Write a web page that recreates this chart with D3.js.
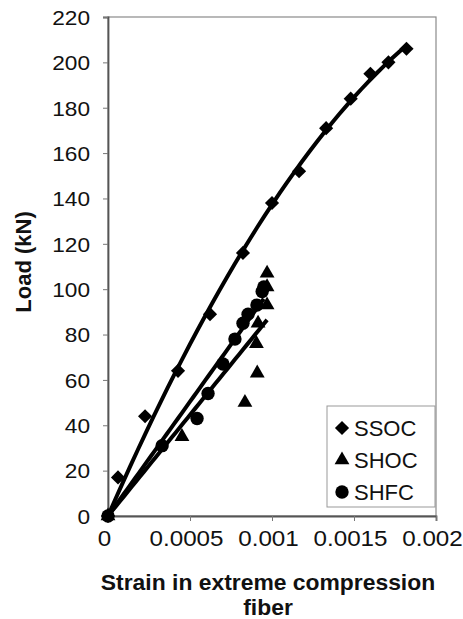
<!DOCTYPE html>
<html>
<head>
<meta charset="utf-8">
<script src="https://cdn.jsdelivr.net/npm/d3@7"></script>
<style>
  body { margin: 0; background: #fff; }
  svg { display: block; font-family: "Liberation Sans", Arial, sans-serif; }
</style>
</head>
<body>
<div id="chart"></div>
<script>
// Data
const ssocStrain = [0, 0.000061, 0.000226, 0.000427, 0.000622, 0.000823, 0.001, 0.001165, 0.00133, 0.00148, 0.0016, 0.00171, 0.00182];
const ssocLoad   = [0, 17, 44, 64, 89, 116, 138, 152, 171, 184, 195, 200, 206];

const shocStrain = [0, 0.000451, 0.000835, 0.00091, 0.000905, 0.000915, 0.00097, 0.00097, 0.00097];
const shocLoad   = [0, 35, 50, 63, 76, 85, 93, 101, 107];

const shfcStrain = [0, 0.00033, 0.000543, 0.00061, 0.000701, 0.000774, 0.000823, 0.000854, 0.000908, 0.00094, 0.00095];
const shfcLoad   = [0, 31, 43, 54, 67, 78, 85, 89, 93, 99, 101];

const xTicks = [0, 0.0005, 0.001, 0.0015, 0.002];
const xTickLabels = ["0", "0.0005", "0.001", "0.0015", "0.002"];
const yTicks = [0, 20, 40, 60, 80, 100, 120, 140, 160, 180, 200, 220];
const seriesNames = ["SSOC", "SHOC", "SHFC"];

const W = 463, H = 619;
const margin = { top: 17, right: 27, bottom: 103, left: 108 };
const width = W - margin.left - margin.right;
const height = H - margin.top - margin.bottom;

const svg = d3.select("#chart").append("svg")
    .attr("width", W)
    .attr("height", H);

const chart = svg.append("g")
    .attr("transform", `translate(${margin.left},${margin.top})`);

const x = d3.scaleLinear().domain([0, 0.002]).range([0, width]);
const y = d3.scaleLinear().domain([0, 220]).range([height, 0]);

// plot frame
chart.append("rect")
    .attr("width", width).attr("height", height)
    .attr("fill", "none").attr("stroke", "#8a8a8a").attr("stroke-width", 1.2);

// axes
const xAxis = chart.append("g")
    .attr("transform", `translate(0,${height})`)
    .call(d3.axisBottom(x).tickValues(xTicks).tickSize(5).tickFormat((d, i) => xTickLabels[i]));
const yAxis = chart.append("g")
    .call(d3.axisLeft(y).tickValues(yTicks).tickSize(5).tickFormat(d3.format("d")));

xAxis.select(".domain").attr("stroke", "#555").attr("stroke-width", 1.8);
yAxis.select(".domain").attr("stroke", "#555").attr("stroke-width", 1.8);
xAxis.selectAll(".tick line").attr("stroke", "#777");
yAxis.selectAll(".tick line").attr("stroke", "#777");

// the scan is a little stretched sideways, so the labels get a small x scale
xAxis.selectAll("text")
    .attr("font-size", 22).attr("fill", "#111")
    .attr("y", 0).attr("dy", 0)
    .attr("transform", "translate(-4,30) scale(1.1,1)");
yAxis.selectAll("text")
    .attr("font-size", 21).attr("fill", "#111")
    .attr("x", 0).attr("dy", "0.35em")
    .attr("transform", "translate(-18,0) scale(1.08,1)");

// axis titles
svg.append("text")
    .attr("transform", "translate(268,590) scale(1.04,1)")
    .attr("text-anchor", "middle")
    .attr("font-size", 22).attr("font-weight", "bold").attr("fill", "#111")
    .text("Strain in extreme compression");
svg.append("text")
    .attr("transform", "translate(268,615) scale(1.04,1)")
    .attr("text-anchor", "middle")
    .attr("font-size", 22).attr("font-weight", "bold").attr("fill", "#111")
    .text("fiber");
svg.append("text")
    .attr("transform", "translate(31,262) rotate(-90)")
    .attr("text-anchor", "middle")
    .attr("font-size", 22).attr("font-weight", "bold").attr("fill", "#111")
    .text("Load (kN)");

// trendlines (least squares, through origin)
function linearFit(xs, ys) {
    const sxy = d3.sum(xs, (v, i) => v * ys[i]);
    const sxx = d3.sum(xs, v => v * v);
    const k = sxy / sxx;
    return v => k * v;
}
function quadFit(xs, ys) {
    // y = a x + b x^2
    const s11 = d3.sum(xs, v => v * v), s12 = d3.sum(xs, v => v * v * v), s22 = d3.sum(xs, v => v ** 4);
    const t1 = d3.sum(xs, (v, i) => v * ys[i]), t2 = d3.sum(xs, (v, i) => v * v * ys[i]);
    const det = s11 * s22 - s12 * s12;
    const a = (t1 * s22 - t2 * s12) / det;
    const b = (s11 * t2 - s12 * t1) / det;
    return v => a * v + b * v * v;
}

const line = d3.line().x(d => x(d[0])).y(d => y(d[1]));

function drawTrend(xs, f) {
    const xmax = d3.max(xs);
    const pts = d3.range(0, 41).map(i => { const v = xmax * i / 40; return [v, f(v)]; });
    chart.append("path")
        .attr("d", line(pts))
        .attr("fill", "none")
        .attr("stroke", "#000")
        .attr("stroke-width", 4);
}

drawTrend(ssocStrain, quadFit(ssocStrain, ssocLoad));
drawTrend(shocStrain, linearFit(shocStrain, shocLoad));
drawTrend(shfcStrain, linearFit(shfcStrain, shfcLoad));

// markers
const diamond = d3.symbol().type(d3.symbolSquare).size(100);
const triangle = d3.symbol().type(d3.symbolTriangle).size(95);
const circle = d3.symbol().type(d3.symbolCircle).size(140);

function drawPoints(xs, ys, sym, rot) {
    chart.selectAll(null)
        .data(xs.map((v, i) => [v, ys[i]]))
        .enter().append("path")
        .attr("d", sym)
        .attr("transform", d => `translate(${x(d[0])},${y(d[1])}) rotate(${rot})`)
        .attr("fill", "#000");
}
drawPoints(shocStrain, shocLoad, triangle, 0);
drawPoints(shfcStrain, shfcLoad, circle, 0);
drawPoints(ssocStrain, ssocLoad, diamond, 45);

// legend
const legend = svg.append("g");
legend.append("rect")
    .attr("x", 327).attr("y", 406)
    .attr("width", 108).attr("height", 101)
    .attr("fill", "#fff").attr("stroke", "#999").attr("stroke-width", 1);

const legendSyms = [diamond, triangle, circle];
const legendRot = [45, 0, 0];
seriesNames.forEach((name, i) => {
    const cy = 428 + i * 32;
    legend.append("path")
        .attr("d", legendSyms[i])
        .attr("transform", `translate(342,${cy}) rotate(${legendRot[i]})`)
        .attr("fill", "#000");
    legend.append("text")
        .attr("x", 354).attr("y", cy + 8)
        .attr("font-size", 22).attr("fill", "#111")
        .text(name);
});
</script>
</body>
</html>
